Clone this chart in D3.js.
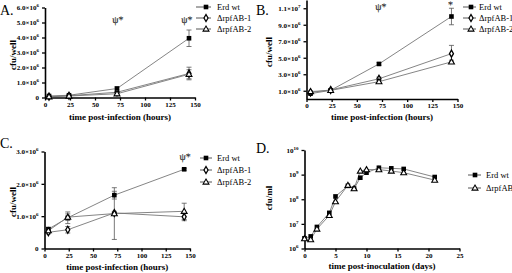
<!DOCTYPE html>
<html>
<head>
<meta charset="utf-8">
<script src="https://cdn.jsdelivr.net/npm/d3@7"></script>
<style>
body{margin:0;background:#fff;}
svg{display:block;font-family:"Liberation Serif","DejaVu Serif",serif;}
.tick text{font-weight:bold;font-size:7px;fill:#000;}
.axtitle{font-weight:bold;font-size:9px;}
.leg{font-size:8.5px;}
.plab{font-size:14px;}
.note{font-size:10px;fill:#222;stroke:#222;stroke-width:0.15px;text-rendering:geometricPrecision;}
</style>
</head>
<body>
<div id="chart"></div>
<script>
// hours post infection (panels A-C)
var hours = [4, 24, 72, 144];

// panel A (cfu/well)
var aErd = [0.10e6, 0.15e6, 0.60e6, 3.95e6];
var aErdErr = [0.05e6, 0.05e6, 0.10e6, 0.55e6];
var aR1 = [0.06e6, 0.12e6, 0.35e6, 1.60e6];
var aR1Err = [0.02e6, 0.03e6, 0.05e6, 0.42e6];
var aR2 = [0.05e6, 0.10e6, 0.25e6, 1.55e6];
var aR2Err = [0.02e6, 0.03e6, 0.05e6, 0.30e6];

// panel B
var bErd = [0.65e6, 1.05e6, 4.25e6, 1.0e7];
var bErdErr = [0.10e6, 0.10e6, 0.15e6, 1.0e6];
var bR1 = [0.80e6, 1.10e6, 2.45e6, 5.5e6];
var bR1Err = [0.10e6, 0.10e6, 0.20e6, 1.0e6];
var bR2 = [0.90e6, 1.05e6, 2.10e6, 4.5e6];
var bR2Err = [0.10e6, 0.10e6, 0.15e6, 0.2e6];

// panel C
var cErd = [0.60e6, 0.95e6, 1.65e6, 2.45e6];
var cErdErr = [0.05e6, 0.18e6, 0.12e6, 0.03e6];
var cR1 = [0.50e6, 0.58e6, 1.10e6, 0.98e6];
var cR1Err = [0.05e6, 0.10e6, 0.05e6, 0.12e6];
var cR2 = [0.55e6, 0.97e6, 1.08e6, 1.15e6];
var cR2Err = [0.05e6, 0.10e6, 0.80e6, 0.25e6];

// panel D (days post inoculation, cfu/ml)
var days = [0, 1, 2, 4, 5, 7, 8, 9, 10, 12, 14, 16, 21];
var dErd = [2.6e6, 3.1e6, 7.5e6, 2.8e7, 1.3e8, 3.5e8, 2.7e8, 7.5e8, 1.2e9, 1.9e9, 1.8e9, 1.7e9, 8.0e8];
var dR = [2.5e6, 2.3e6, 6.2e6, 2.2e7, 8.0e7, 3.7e8, 2.7e8, 1.4e9, 1.6e9, 1.6e9, 1.4e9, 1.2e9, 6.0e8];

var hourTicks = [0, 25, 50, 75, 100, 125, 150];
var dayTicks = [0, 5, 10, 15, 20, 25];
var aTicks = [0, 1e6, 2e6, 3e6, 4e6, 5e6, 6e6];
var bTicks = [1e6, 3e6, 5e6, 7e6, 9e6, 1.1e7];
var cTicks = [0, 1e6, 2e6, 3e6];
var dTicks = [1e6, 1e7, 1e8, 1e9, 1e10];

var svg = d3.select("#chart").append("svg").attr("width", 512).attr("height", 273);

function mantissa(v){
	var e = Math.floor(Math.log10(v) + 1e-9);
	return {m: (v / Math.pow(10, e)).toFixed(1), e: e};
}

function sciLabel(sel, logOnly){
	sel.each(function(d){
		var t = d3.select(this).text("");
		if(d === 0){ t.text("0"); return; }
		var p = mantissa(d);
		if(!logOnly) t.append("tspan").text(p.m + "\u00d7");
		t.append("tspan").text("10");
		t.append("tspan").attr("dy", -3).style("font-size", "5px").text(p.e);
	});
}

function marker(g, type, x, y){
	if(type === "sq"){
		g.append("rect").attr("x", x - 2.3).attr("y", y - 2.3).attr("width", 4.6).attr("height", 4.6)
			.attr("fill", "#000");
	}else if(type === "dia"){
		g.append("path").attr("d", d3.symbol(d3.symbolDiamond, 14)()).attr("transform", "translate(" + x + "," + y + ")")
			.attr("fill", "#fff").attr("stroke", "#000").attr("stroke-width", 1.3);
	}else{
		g.append("path").attr("d", d3.symbol(d3.symbolTriangle, 15)()).attr("transform", "translate(" + x + "," + (y + 0.4) + ")")
			.attr("fill", "#fff").attr("stroke", "#000").attr("stroke-width", 1.1);
	}
}

function drawPanel(p){
	var g = svg.append("g");
	var xs = d3.scaleLinear().domain(p.xdom).range(p.xr);
	var ys = (p.log ? d3.scaleLog() : d3.scaleLinear()).domain(p.ydom).range(p.yr);

	var xa = g.append("g").attr("transform", "translate(0," + p.yr[0] + ")")
		.call(d3.axisBottom(xs).tickValues(p.xticks).tickSize(3).tickSizeOuter(0));
	var ya = g.append("g").attr("transform", "translate(" + p.xr[0] + ",0)")
		.call(d3.axisLeft(ys).tickValues(p.yticks).tickSize(3).tickSizeOuter(0));
	ya.selectAll(".tick text").call(sciLabel, p.log);
	[xa, ya].forEach(function(a){
		a.select(".domain").attr("stroke", "#000").attr("stroke-width", 1.6);
		a.selectAll(".tick line").attr("stroke", "#000").attr("stroke-width", 1.3);
		a.selectAll(".tick text").style("font-family", "Liberation Serif");
	});
	xa.selectAll(".tick text").attr("y", 4).attr("dy", "0.75em");

	var line = d3.line().x(function(d){ return xs(d[0]); }).y(function(d){ return ys(d[1]); });
	p.series.forEach(function(s){
		var pts = s.vals.map(function(v, i){ return [p.xs[i], v, s.err ? s.err[i] : 0]; });
		g.append("path").datum(pts).attr("d", line).attr("fill", "none").attr("stroke", "#777").attr("stroke-width", 0.9);
		pts.forEach(function(d){
			if(d[2] > 0){
				var x = xs(d[0]), y1 = ys(d[1] - d[2]), y2 = ys(d[1] + d[2]);
				g.append("path").attr("d", "M" + x + "," + y1 + "V" + y2 + "M" + (x - 2.5) + "," + y1 + "H" + (x + 2.5) + "M" + (x - 2.5) + "," + y2 + "H" + (x + 2.5))
					.attr("stroke", "#555").attr("stroke-width", 0.8).attr("fill", "none");
			}
		});
	});
	p.series.forEach(function(s){
		s.vals.forEach(function(v, i){ marker(g, s.type, xs(p.xs[i]), ys(v)); });
	});

	// legend
	p.series.forEach(function(s, i){
		var y = p.leg.y + i * p.leg.dy;
		g.append("line").attr("x1", p.leg.x1).attr("x2", p.leg.x2).attr("y1", y).attr("y2", y)
			.attr("stroke", "#555").attr("stroke-width", 1);
		marker(g, s.type, p.leg.mx, y);
		g.append("text").attr("class", "leg").attr("x", p.leg.tx).attr("y", y).attr("dy", "0.33em").text(s.name);
	});

	// annotations
	(p.notes || []).forEach(function(n){
		g.append("text").attr("class", "note").attr("x", xs(n.x)).attr("y", n.y).attr("text-anchor", "middle").text(n.t);
	});

	// titles
	g.append("text").attr("class", "axtitle").attr("x", (p.xr[0] + p.xr[1]) / 2).attr("y", p.xtitleY)
		.attr("text-anchor", "middle").text(p.xtitle);
	g.append("text").attr("class", "axtitle").attr("transform", "translate(" + p.ytitleX + "," + p.ytitleY + ") rotate(-90)")
		.attr("text-anchor", "middle").text(p.ytitle);
	g.append("text").attr("class", "plab").attr("x", p.lab[0]).attr("y", p.lab[1]).text(p.label);
}

drawPanel({
	label: "A.", lab: [0, 15],
	xdom: [0, 150], xr: [45, 195], ydom: [0, 6e6], yr: [97.5, 7.5],
	xticks: hourTicks, yticks: aTicks, xs: hours,
	xtitle: "time post-infection (hours)", xtitleY: 120,
	ytitle: "cfu/well", ytitleX: 16, ytitleY: 55,
	series: [
		{name: "Erd wt", type: "sq", vals: aErd, err: aErdErr},
		{name: "\u0394rpfAB-1", type: "dia", vals: aR1, err: aR1Err},
		{name: "\u0394rpfAB-2", type: "tri", vals: aR2, err: aR2Err}
	],
	leg: {x1: 196, x2: 211, mx: 206, tx: 217, y: 7, dy: 11},
	notes: [{x: 73, y: 23, t: "\u03c8*"}, {x: 142, y: 23, t: "\u03c8*"}]
});

drawPanel({
	label: "B.", lab: [256, 15],
	xdom: [0, 150], xr: [306.5, 457.5], ydom: [0, 1.2e7], yr: [99, 0],
	xticks: hourTicks, yticks: bTicks, xs: hours,
	xtitle: "time post-infection (hours)", xtitleY: 120,
	ytitle: "cfu/well", ytitleX: 272, ytitleY: 52,
	series: [
		{name: "Erd wt", type: "sq", vals: bErd, err: bErdErr},
		{name: "\u0394rpfAB-1", type: "dia", vals: bR1, err: bR1Err},
		{name: "\u0394rpfAB-2", type: "tri", vals: bR2, err: bR2Err}
	],
	leg: {x1: 463, x2: 476, mx: 471, tx: 479, y: 7, dy: 11},
	notes: [{x: 74, y: 10, t: "\u03c8*"}, {x: 143, y: 8, t: "*"}]
});

drawPanel({
	label: "C.", lab: [0, 148],
	xdom: [0, 150], xr: [44.5, 190], ydom: [0, 3e6], yr: [248.5, 151.5],
	xticks: hourTicks, yticks: cTicks, xs: hours,
	xtitle: "time post-infection (hours)", xtitleY: 270,
	ytitle: "cfu/well", ytitleX: 16, ytitleY: 202,
	series: [
		{name: "Erd wt", type: "sq", vals: cErd, err: cErdErr},
		{name: "\u0394rpfAB-1", type: "dia", vals: cR1, err: cR1Err},
		{name: "\u0394rpfAB-2", type: "tri", vals: cR2, err: cR2Err}
	],
	leg: {x1: 200, x2: 212, mx: 206, tx: 217, y: 158, dy: 12},
	notes: [{x: 145, y: 160, t: "\u03c8*"}]
});

drawPanel({
	label: "D.", lab: [256, 153], log: true,
	xdom: [0, 25], xr: [304.5, 459.5], ydom: [1e6, 1e10], yr: [248.5, 150],
	xticks: dayTicks, yticks: dTicks, xs: days,
	xtitle: "time post-inoculation (days)", xtitleY: 269,
	ytitle: "cfu/ml", ytitleX: 272, ytitleY: 198,
	series: [
		{name: "Erd wt", type: "sq", vals: dErd},
		{name: "\u0394rpfAB", type: "tri", vals: dR}
	],
	leg: {x1: 468, x2: 481, mx: 475, tx: 486, y: 175, dy: 13}
});
</script>
</body>
</html>
